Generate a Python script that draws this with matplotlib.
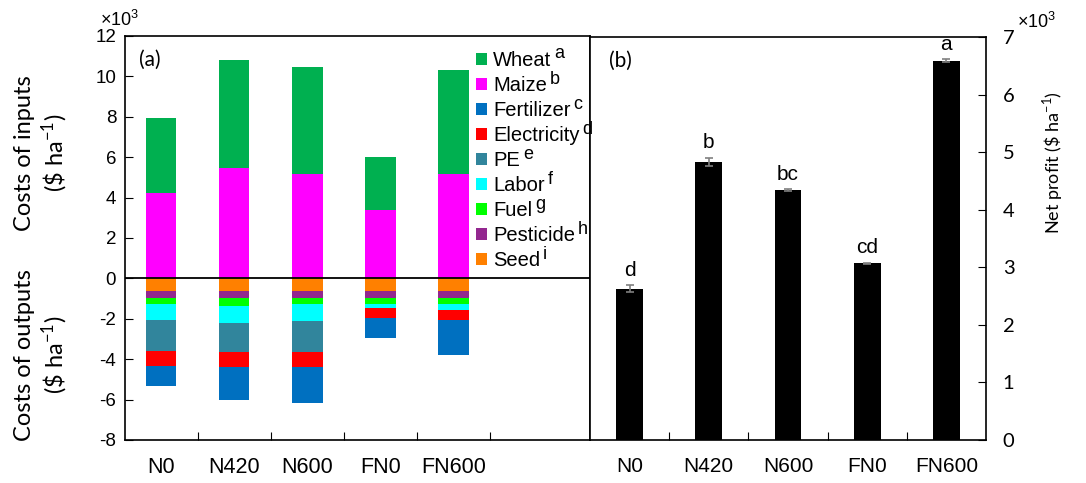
import numpy as np
import matplotlib
matplotlib.use("Agg")
import matplotlib.pyplot as plt
from matplotlib.ticker import FixedLocator, FuncFormatter

plt.rcParams['font.family'] = ['Liberation Sans', 'DejaVu Sans']
plt.rcParams['mathtext.fontset'] = 'custom'
plt.rcParams['mathtext.rm'] = 'Liberation Sans'
plt.rcParams['mathtext.it'] = 'Liberation Sans:italic'

treatments = ["N0", "N420", "N600", "FN0", "FN600"]

# costs of inputs ($ ha-1), positive side
maize = [4220, 5450, 5150, 3380, 5150]
wheat = [3730, 5350, 5320, 2620, 5150]

# costs of outputs ($ ha-1), stacked downward from zero
seed = [630, 630, 630, 630, 630]
pesticide = [330, 330, 330, 330, 330]
fuel = [330, 430, 330, 330, 330]
labor = [760, 830, 840, 190, 250]
pe = [1520, 1430, 1520, 0, 0]
electricity = [760, 760, 760, 490, 510]
fertilizer = [990, 1590, 1750, 990, 1750]

# net profit ($ ha-1)
net_profit = [2630, 4830, 4340, 3070, 6590]
net_err = [60, 70, 15, 10, 25]
net_letters = ["d", "b", "bc", "cd", "a"]

colors = {
    "Wheat": "#00B050", "Maize": "#FF00FF", "Fertilizer": "#0070C0",
    "Electricity": "#FF0000", "PE": "#31859C", "Labor": "#00FFFF",
    "Fuel": "#00FF00", "Pesticide": "#93278F", "Seed": "#FF8000",
}
sup = {"Wheat": "a", "Maize": "b", "Fertilizer": "c", "Electricity": "d", "PE": "e",
       "Labor": "f", "Fuel": "g", "Pesticide": "h", "Seed": "i"}

W, H = 1086, 483
fig = plt.figure(figsize=(W / 100, H / 100), dpi=100)
LATO = ["Lato", "DejaVu Sans"]


def fig_box(x0, y0, x1, y1):
    return [x0 / W, 1 - y1 / H, (x1 - x0) / W, (y1 - y0) / H]


x = np.arange(len(treatments))
kfmt = FuncFormatter(lambda v, p: "%d" % round(v / 1000))
blank = FuncFormatter(lambda v, p: "")

# ---------------- panel (a) ----------------
ax1 = fig.add_axes(fig_box(124.5, 36, 590, 440))
handles = {}
bw = 0.42
handles["Maize"] = ax1.bar(x, maize, bw, color=colors["Maize"])
handles["Wheat"] = ax1.bar(x, wheat, bw, bottom=maize, color=colors["Wheat"])

cum = np.zeros(len(treatments))
for name, vals in [("Seed", seed), ("Pesticide", pesticide), ("Fuel", fuel), ("Labor", labor),
                   ("PE", pe), ("Electricity", electricity), ("Fertilizer", fertilizer)]:
    v = -np.array(vals, dtype=float)
    handles[name] = ax1.bar(x, v, bw, bottom=cum, color=colors[name])
    cum = cum + v

ax1.axhline(0, color="black", lw=1.3, zorder=5)
ax1.set_xlim(-0.5, 5.87)
ax1.set_ylim(-8000, 12000)
ax1.yaxis.set_major_locator(FixedLocator(np.arange(-8000, 12001, 2000)))
ax1.yaxis.set_major_formatter(kfmt)
ax1.tick_params(axis="y", direction="in", length=6, labelsize=13.5, pad=6)
ax1.xaxis.set_major_locator(FixedLocator(np.arange(0.5, 5, 1)))
ax1.xaxis.set_major_formatter(blank)
ax1.set_xticks(x, treatments, minor=True)
ax1.tick_params(axis="x", which="major", direction="in", length=6)
ax1.tick_params(axis="x", which="minor", length=0, labelsize=15.5, pad=12)
for s in ax1.spines.values():
    s.set_linewidth(1.2)

order = ["Wheat", "Maize", "Fertilizer", "Electricity", "PE", "Labor", "Fuel", "Pesticide", "Seed"]
leg = ax1.legend([handles[n] for n in order], order,
                 loc="upper left", bbox_to_anchor=(476 / W, 1 - 51 / H), bbox_transform=fig.transFigure,
                 frameon=False, fontsize=14.5, handlelength=0.55, handleheight=0.55,
                 handletextpad=0.3, borderpad=0, borderaxespad=0, labelspacing=0.3)

ax1.text(150 / W, 1 - 60 / H, "(a)", transform=fig.transFigure, fontsize=15,
         family=LATO, ha="center", va="center")
fig.text(100 / W, 1 - 20 / H, r"$\mathregular{\times10^3}$", fontsize=13, ha="left", va="center")
fig.text(42 / W, 1 - 153 / H, "Costs of inputs\n(\\$ ha$^{\\mathregular{-1}}$)", rotation=90,
         fontsize=17, family=LATO, ha="center", va="center",
         multialignment="center", linespacing=1.2)
fig.text(42 / W, 1 - 355 / H, "Costs of outputs\n(\\$ ha$^{\\mathregular{-1}}$)", rotation=90,
         fontsize=17, family=LATO, ha="center", va="center",
         multialignment="center", linespacing=1.2)

# ---------------- panel (b) ----------------
ax2 = fig.add_axes(fig_box(590, 37, 986, 440))
ax2.bar(x, net_profit, 0.34, color="black",
        yerr=net_err, error_kw=dict(ecolor="#808080", capsize=3, elinewidth=1.2, capthick=1.2))
for xi, v, e, lab in zip(x, net_profit, net_err, net_letters):
    ax2.annotate(lab, (xi, v + e), xytext=(0, 4), textcoords="offset points",
                 ha="center", va="bottom", fontsize=15)
ax2.set_xlim(-0.5, 4.5)
ax2.set_ylim(0, 7000)
ax2.yaxis.tick_right()
ax2.yaxis.set_major_locator(FixedLocator(np.arange(0, 7001, 1000)))
ax2.yaxis.set_major_formatter(kfmt)
ax2.tick_params(axis="y", direction="in", length=6, labelsize=14.5, pad=12)
for lab in ax2.get_yticklabels():
    lab.set_family(LATO)
ax2.xaxis.set_major_locator(FixedLocator(np.arange(0.5, 4, 1)))
ax2.xaxis.set_major_formatter(blank)
ax2.set_xticks(x, treatments, minor=True)
ax2.tick_params(axis="x", which="major", direction="in", length=6)
ax2.tick_params(axis="x", which="minor", length=0, labelsize=15, pad=12)
for s in ax2.spines.values():
    s.set_linewidth(1.2)
fig.text(1053 / W, 1 - 163 / H, "Net profit (\\$ ha$^{\\mathregular{-1}}$)", rotation=90,
         fontsize=13, family=LATO, ha="center", va="center")
fig.text(620 / W, 1 - 61 / H, "(b)", fontsize=15, family=LATO, ha="center", va="center")
fig.text(1017 / W, 1 - 22 / H, r"$\mathregular{\times10^3}$", fontsize=13, ha="left", va="center")

# superscript letters after the legend labels
fig.canvas.draw()
r = fig.canvas.get_renderer()
for t, n in zip(leg.get_texts(), order):
    bb = t.get_window_extent(r)
    fig.text((bb.x1 + 3) / W, (bb.y1 - 3) / H, sup[n], fontsize=13, ha="left", va="center")

fig.savefig("out.png", dpi=100)
